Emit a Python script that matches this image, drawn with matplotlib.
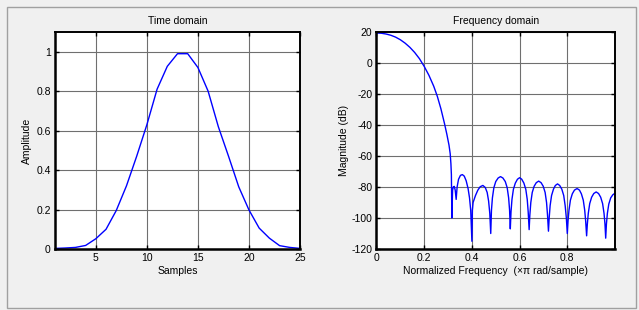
import numpy as np
import matplotlib
matplotlib.use('Agg')
import matplotlib.pyplot as plt
from matplotlib.patches import Rectangle

plt.rcParams['font.family'] = ['Liberation Sans', 'DejaVu Sans']
plt.rcParams['axes.unicode_minus'] = False

# time domain window samples
samples = list(range(1, 26))
amplitude = [0.003, 0.005, 0.008, 0.018, 0.052, 0.100, 0.195, 0.320, 0.470, 0.630,
             0.810, 0.926, 0.990, 0.990, 0.920, 0.800, 0.620, 0.470, 0.315, 0.198,
             0.106, 0.055, 0.017, 0.008, 0.003]

# frequency response, main lobe
main_freq = [0.000, 0.020, 0.040, 0.060, 0.080, 0.100, 0.120, 0.140, 0.160, 0.180,
             0.190, 0.200, 0.220, 0.240, 0.255, 0.270, 0.285, 0.295, 0.304, 0.309,
             0.312, 0.314, 0.316]
main_db = [19.4, 19.2, 18.7, 17.9, 16.7, 15.0, 12.8, 10.1, 6.8, 2.8,
           0.3, -2.2, -8.0, -15.0, -21.5, -29.5, -39.0, -46.0, -53.0, -58.5,
           -65.0, -72.0, -100.0]

# frequency response, side lobes
side_freq = [0.319, 0.322, 0.326, 0.330, 0.334, 0.338, 0.344, 0.352, 0.360, 0.368,
             0.376, 0.384, 0.390, 0.395, 0.400,
             0.402, 0.405, 0.415, 0.425, 0.435, 0.446, 0.456, 0.464, 0.470, 0.475, 0.479,
             0.482, 0.486, 0.492, 0.500, 0.510, 0.520, 0.530, 0.540, 0.548, 0.554, 0.558, 0.561,
             0.564, 0.568, 0.574, 0.582, 0.591, 0.600, 0.609, 0.618, 0.626, 0.632, 0.636, 0.640,
             0.643, 0.647, 0.653, 0.661, 0.670, 0.680, 0.690, 0.699, 0.707, 0.713, 0.717, 0.721,
             0.724, 0.728, 0.734, 0.742, 0.750, 0.759, 0.768, 0.777, 0.785, 0.791, 0.796, 0.800,
             0.803, 0.807, 0.813, 0.821, 0.830, 0.841, 0.851, 0.859, 0.867, 0.873, 0.877, 0.881,
             0.884, 0.888, 0.894, 0.902, 0.911, 0.921, 0.931, 0.940, 0.948, 0.954, 0.958, 0.961,
             0.964, 0.968, 0.974, 0.982, 0.991, 1.000]
side_db = [-82.0, -80.0, -79.6, -82.0, -88.0, -80.0, -75.0, -72.5, -72.0, -73.0,
           -76.0, -81.0, -87.0, -95.0, -115.0,
           -95.0, -90.0, -85.5, -82.0, -79.8, -79.0, -80.3, -83.5, -89.0, -97.0, -110.0,
           -95.0, -87.0, -80.5, -76.5, -74.2, -73.3, -74.2, -76.5, -80.5, -87.0, -95.0, -107.0,
           -96.0, -88.0, -81.5, -77.5, -75.0, -74.0, -75.0, -77.5, -81.5, -88.0, -96.0, -107.5,
           -98.0, -90.0, -83.5, -79.5, -77.2, -76.2, -77.2, -79.5, -83.5, -90.0, -98.0, -108.5,
           -100.0, -92.0, -85.5, -81.4, -79.0, -78.0, -79.0, -81.4, -85.5, -92.0, -100.0, -110.0,
           -102.0, -95.0, -88.5, -84.4, -82.0, -81.0, -82.0, -84.4, -88.5, -95.0, -102.0, -111.5,
           -104.0, -97.0, -90.7, -86.6, -84.2, -83.2, -84.2, -86.6, -90.7, -97.0, -104.0, -113.0,
           -104.0, -97.0, -91.0, -87.0, -85.0, -84.0]

freq = main_freq + side_freq
mag_db = main_db + side_db

W, H = 639, 310
fig = plt.figure(figsize=(W / 100, H / 100), dpi=100, facecolor='#f0f0f0')

# panel frame
fig.patches.append(Rectangle((7 / W, 2 / H), 629 / W, 301 / H, transform=fig.transFigure,
                             fill=False, edgecolor='#a0a0a0', linewidth=1))

fs = 7.5


def style_axes(ax):
    ax.grid(True, color='#6f6f6f', linewidth=0.8, linestyle='-')
    ax.set_axisbelow(True)
    ax.tick_params(direction='in', top=True, right=True, length=3, width=1,
                   labelsize=fs, pad=3, colors='black')
    for side in ['left', 'bottom']:
        ax.spines[side].set_linewidth(1.8)
    for side in ['top', 'right']:
        ax.spines[side].set_linewidth(1.4)


ax1 = fig.add_axes([55 / W, 1 - 249 / H, 245 / W, 217 / H])
ax1.plot(samples, amplitude, color='#0000ff', linewidth=1)
ax1.set_xlim(1, 25)
ax1.set_ylim(0, 1.1)
ax1.set_xticks([5, 10, 15, 20, 25])
ax1.set_yticks([0, 0.2, 0.4, 0.6, 0.8, 1])
ax1.set_yticklabels(['0', '0.2', '0.4', '0.6', '0.8', '1'])
ax1.set_title('Time domain', fontsize=fs, pad=6)
ax1.set_xlabel('Samples', fontsize=fs, labelpad=2)
ax1.set_ylabel('Amplitude', fontsize=fs, labelpad=3)
style_axes(ax1)

ax2 = fig.add_axes([376.5 / W, 1 - 249 / H, 238.5 / W, 217 / H])
ax2.plot(freq, mag_db, color='#0000ff', linewidth=1)
ax2.set_xlim(0, 1)
ax2.set_ylim(-120, 20)
ax2.set_xticks([0, 0.2, 0.4, 0.6, 0.8])
ax2.set_xticklabels(['0', '0.2', '0.4', '0.6', '0.8'])
ax2.set_yticks(range(-120, 21, 20))
ax2.set_title('Frequency domain', fontsize=fs, pad=6)
ax2.set_xlabel('Normalized Frequency  (\u00d7\u03c0 rad/sample)', fontsize=fs, labelpad=2)
ax2.set_ylabel('Magnitude (dB)', fontsize=fs, labelpad=2)
style_axes(ax2)

fig.savefig('out.png', dpi=100, facecolor=fig.get_facecolor())
